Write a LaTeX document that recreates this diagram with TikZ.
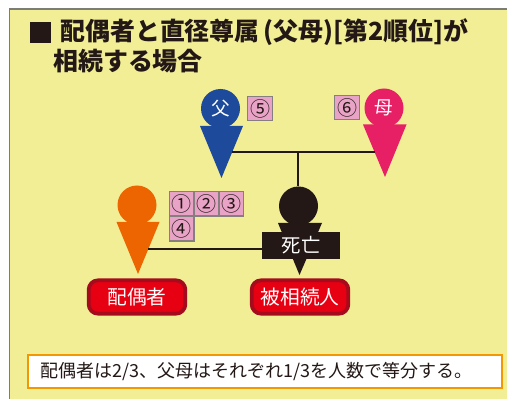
\documentclass[tikz,border=0pt]{standalone}
\usepackage{fontspec}
\setmainfont{Noto Sans CJK JP}
\usetikzlibrary{calc}
\definecolor{paper}{HTML}{F1EE96}
\definecolor{framec}{HTML}{7D7D78}
\definecolor{ink}{HTML}{231815}
\definecolor{fatherc}{HTML}{1D4A9A}
\definecolor{motherc}{HTML}{E71F65}
\definecolor{spousec}{HTML}{EC6500}
\definecolor{boxc}{HTML}{E8A3C6}
\definecolor{boxl}{HTML}{85807F}
\definecolor{btnf}{HTML}{E60012}
\definecolor{btnl}{HTML}{A40B1C}
\definecolor{notel}{HTML}{F39800}
\tikzset{
  x=0.75pt,y=-0.75pt,
  head/.style={circle,inner sep=0pt,minimum size=29.25pt,text=white,font=\fontsize{14pt}{15pt}\selectfont},
  numbox/.style={draw=boxl,line width=0.9pt,fill=boxc,inner sep=0pt,minimum size=18.4pt,text=ink,font=\fontsize{15pt}{16pt}\selectfont},
  btn/.style={draw=btnl,line width=2.8pt,fill=btnf,rounded corners=7pt,inner sep=0pt,minimum width=72.5pt,minimum height=25pt,text=white,font=\fontsize{14.8pt}{15pt}\selectfont},
  conn/.style={draw=ink,line width=1.2pt},
  titletext/.style={anchor=base west,inner sep=0pt,text=ink,font=\bfseries\fontsize{18.7pt}{20pt}\selectfont}
}
\begin{document}
\begin{tikzpicture}
\useasboundingbox (0,0) rectangle (507,399);
\fill[white] (0,0) rectangle (507,399);
\fill[paper] (9.5,9) rectangle (507,399);
\draw[framec,line width=1.4pt] (9.5,399) -- (9.5,9) -- (507,9);

\fill[ink] (30,22) rectangle (51,43);
\node[titletext] (t1) at (60,41) {配偶者と直径尊属\,(父母)[第2順位]が};
\node[titletext] (t2) at (53,71) {相続する場合};

\coordinate (fa) at (232,152);
\coordinate (mo) at (375,152);
\coordinate (jn) at (298,152);
\coordinate (sp) at (148,249);

\fill[fatherc] (200,126) -- (243,126) -- (221.5,178) -- cycle;
\fill[motherc] (363,124.5) -- (406.5,124.5) -- (385,177) -- cycle;
\fill[spousec] (116.5,222) -- (159.5,222) -- (138,274) -- cycle;
\fill[ink] (278,223) -- (322,223) -- (299.5,275) -- cycle;

\node[head,fill=fatherc] (father) at (220.5,108.5) {父};
\node[head,fill=motherc] (mother) at (384,108) {母};
\node[head,fill=spousec] (spouse) at (137,205) {};
\node[head,fill=ink] (deceased) at (298.5,206) {};

\node[fill=ink,text=white,inner sep=0pt,minimum width=58.5pt,minimum height=20.25pt,font=\fontsize{14.5pt}{15pt}\selectfont] (dead) at (301,245.5) {死亡};

\draw[conn] (fa) -- (mo);
\draw[conn] (jn) -- (jn |- deceased.north);
\draw[conn] (sp) -- (dead.west |- sp);

\node[numbox] (n5) at (260,108.5) {⑤};
\node[numbox] (n6) at (347,107.5) {⑥};
\node[numbox] (n1) at (181.7,203.7) {①};
\node[numbox] (n2) at (206.6,203.7) {②};
\node[numbox] (n3) at (231.5,203.7) {③};
\node[numbox] (n4) at (181.7,228.7) {④};

\node[btn] (bs) at (137,297) {配偶者};
\node[btn] (bd) at (300,297) {被相続人};

\node[draw=notel,line width=1.3pt,fill=white,minimum width=355.5pt,minimum height=24.75pt,inner sep=0pt] (note) at (265,371.5) {};
\node[anchor=base west,inner sep=0pt,text=ink,font=\fontsize{13.5pt}{14pt}\selectfont] (notetext) at (40,377) {配偶者は2/3、父母はそれぞれ1/3を人数で等分する。};
\end{tikzpicture}
\end{document}
